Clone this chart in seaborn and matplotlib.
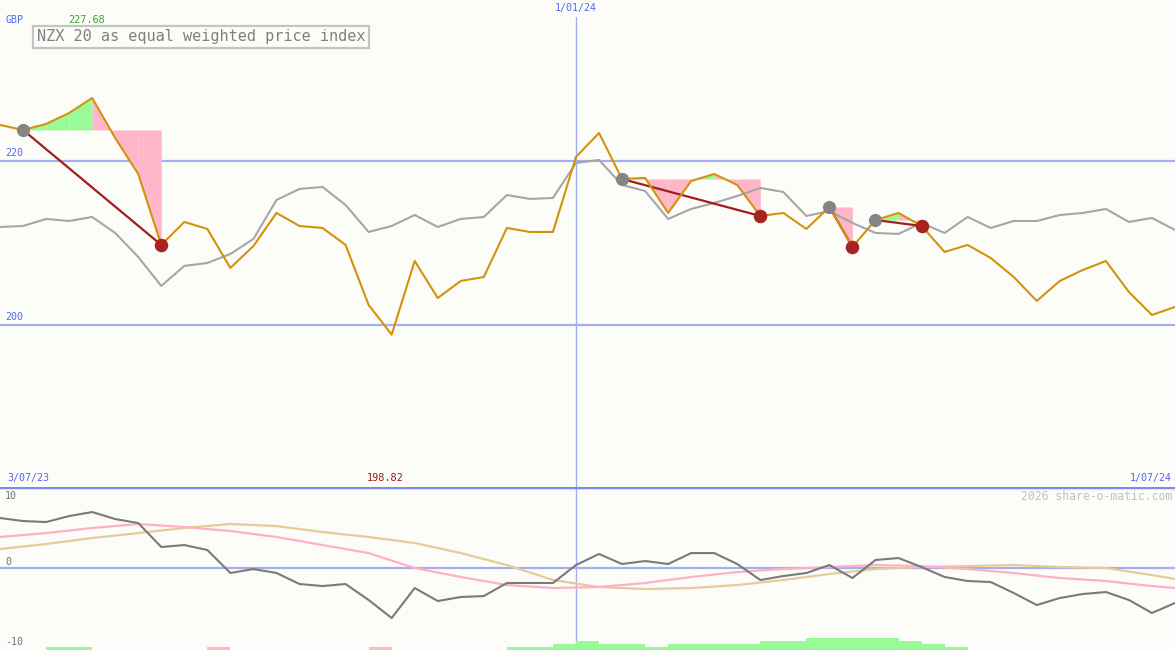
import matplotlib
matplotlib.use("Agg")
import matplotlib.pyplot as plt
import matplotlib.transforms as mtransforms
import seaborn as sns
import numpy as np

# weekly closes, 3/07/23 .. 1/07/24
weeks = np.arange(52)
index_close = [224.39, 223.78, 224.51, 225.85, 227.68, 222.80, 218.41, 209.76, 212.56, 211.71,
               206.95, 209.63, 213.66, 212.07, 211.83, 209.76, 202.44, 198.82, 207.80, 203.29,
               205.37, 205.85, 211.83, 211.34, 211.34, 220.49, 223.41, 217.80, 217.93, 213.66,
               217.56, 218.41, 217.07, 213.29, 213.66, 211.71, 214.39, 209.51, 212.80, 213.66,
               212.07, 208.90, 209.76, 208.17, 205.85, 202.93, 205.37, 206.71, 207.80, 204.02,
               201.22, 202.20]
compare_close = [211.95, 212.07, 212.93, 212.68, 213.17, 211.22, 208.29, 204.76, 207.20, 207.56,
                 208.66, 210.49, 215.24, 216.59, 216.83, 214.63, 211.34, 212.07, 213.41, 211.95,
                 212.93, 213.17, 215.85, 215.37, 215.49, 219.76, 220.12, 217.07, 216.34, 212.93,
                 214.15, 214.88, 215.73, 216.71, 216.22, 213.29, 213.90, 212.44, 211.22, 211.10,
                 212.44, 211.22, 213.17, 211.83, 212.68, 212.68, 213.41, 213.66, 214.15, 212.56,
                 213.05, 211.59]

# swing highs -> swing lows
peaks = [1, 27, 36, 38]
troughs = [7, 33, 37, 40]

# lower panel
momentum = [6.85, 6.44, 6.30, 7.12, 7.67, 6.71, 6.16, 2.88, 3.15, 2.47,
            -0.68, -0.14, -0.68, -2.19, -2.47, -2.19, -4.38, -6.85, -2.74, -4.52,
            -3.97, -3.84, -2.05, -2.05, -2.05, 0.41, 1.92, 0.55, 0.96, 0.55,
            2.05, 2.05, 0.55, -1.64, -1.10, -0.68, 0.41, -1.37, 1.10, 1.37,
            0.14, -1.23, -1.78, -1.92, -3.42, -5.07, -4.11, -3.56, -3.29, -4.38,
            -6.16, -4.79]
smooth_weeks = [0, 2, 4, 6, 8, 10, 12, 14, 16, 18, 20, 22, 24, 26, 28, 30, 32, 34, 36, 38,
                40, 42, 44, 46, 48, 50, 51]
fast_avg = [4.25, 4.79, 5.48, 6.03, 5.62, 5.07, 4.25, 3.15, 2.05, 0.00, -1.23, -2.33, -2.74,
            -2.60, -2.05, -1.23, -0.55, -0.14, 0.14, 0.41, 0.27, -0.14, -0.68, -1.37, -1.78,
            -2.47, -2.74]
slow_avg = [2.60, 3.29, 4.11, 4.79, 5.48, 6.03, 5.75, 4.93, 4.25, 3.42, 2.05, 0.41, -1.64,
            -2.60, -2.88, -2.74, -2.33, -1.64, -0.82, -0.14, 0.14, 0.27, 0.41, 0.14, 0.00,
            -0.96, -1.51]
# signal strip: + green, - pink
signal = [0, 0, 1, 1, 0, 0, 0, 0, 0, -1, 0, 0, 0, 0, 0, 0, -1, 0, 0, 0,
          0, 0, 1, 1, 2, 3, 2, 2, 1, 2, 2, 2, 2, 3, 3, 4, 4, 4, 4, 3,
          2, 1, 0, 0, 0, 0, 0, 0, 0, 0, 0]

date_labels = ["3/07/23", "1/01/24", "1/07/24"]
date_pos = [0, 25, 51]

bg = "#fcfdf9"
blue = "#5566ee"
grid_blue = "#a4aef2"
orange = "#d4920c"
green_fill = "#98fb98"
pink_fill = "#ffb6c8"
dark_red = "#a21d1d"
mono = "DejaVu Sans Mono"

sns.set_style("white")
plt.rcParams["font.family"] = [mono]

W, H = 1175, 650
fig = plt.figure(figsize=(W / 100, H / 100), dpi=100, facecolor=bg)
ax = fig.add_axes([0, 163 / H, 1, 487 / H], facecolor=bg)
ax2 = fig.add_axes([0, 0, 1, 163 / H], facecolor=bg)
for a in (ax, ax2):
    a.set_xlim(0, 51)
    a.set_xticks([])
    a.set_yticks([])
    a.set_xlabel("")
    a.set_ylabel("")
    for s in a.spines.values():
        s.set_visible(False)

ax.set_ylim(180.24, 239.63)
ax2.set_ylim(-11.23, 11.10)

# grid
for lvl in (220, 200):
    ax.axhline(lvl, color=grid_blue, lw=1.6, zorder=1)
    ax.text(0.22, lvl + 0.35, str(lvl), color=blue, fontsize=7.2, va="bottom", ha="left")
ax.axvline(date_pos[1], ymin=0, ymax=1 - 17 / 487, color=grid_blue, lw=1, zorder=1)
ax2.axvline(date_pos[1], color=grid_blue, lw=1, zorder=1)
ax2.axhline(0, color=grid_blue, lw=1.6, zorder=1)
ax2.axhline(11.10, color="#7d8aef", lw=2.5, zorder=5)

# swing fills
close = np.array(index_close)
for p, t in zip(peaks, troughs):
    lvl = close[p]
    for i in range(p, t):
        xs = weeks[i:i + 2]
        ys = close[i:i + 2]
        if ys[1] > ys[0]:
            ax.fill_between(xs, ys, lvl, where=ys >= lvl, interpolate=True, color=green_fill, lw=0, zorder=2)
            ax.fill_between(xs, ys, lvl, where=ys <= lvl, interpolate=True, color=pink_fill, lw=0, zorder=2)
        else:
            ax.fill_between(xs, ys, lvl, color=pink_fill, lw=0, zorder=2)

sns.lineplot(x=weeks, y=compare_close, ax=ax, color="#a6a6a6", linewidth=1.5, zorder=3)
for p, t in zip(peaks, troughs):
    sns.lineplot(x=[weeks[p], weeks[t]], y=[close[p], close[t]], ax=ax, color=dark_red,
                 linewidth=1.6, zorder=4)
sns.lineplot(x=weeks, y=index_close, ax=ax, color=orange, linewidth=1.5, zorder=5)
sns.scatterplot(x=weeks[peaks], y=close[peaks], ax=ax, color="#858585", s=90, linewidth=0, zorder=6)
sns.scatterplot(x=weeks[troughs], y=close[troughs], ax=ax, color="#a82222", s=95, linewidth=0, zorder=6)

# max / min labels
imax, imin = int(np.argmax(close)), int(np.argmin(close))
off = mtransforms.offset_copy(ax.transData, fig=fig, x=-6, y=0, units="dots")
tmax = mtransforms.blended_transform_factory(off, fig.transFigure)
fig.text(weeks[imax], 1 - 20 / H, f"{close[imax]:.2f}", transform=tmax, color="#33aa22",
         fontsize=7.4, ha="center", va="center")
fig.text(weeks[imin], 1 - 478 / H, f"{close[imin]:.2f}", transform=tmax, color="#a01818",
         fontsize=7.4, ha="center", va="center")

# text
fig.text(5 / W, 1 - 20 / H, "GBP", color=blue, fontsize=7.2, va="center", ha="left")
fig.text(37 / W, 1 - 37 / H, "NZX 20 as equal weighted price index", color="#808080",
         fontsize=11, va="center", ha="left",
         bbox=dict(boxstyle="square,pad=0.25", fc=bg, ec="#c4c4c4", lw=1.6))
fig.text(7 / W, 1 - 478 / H, date_labels[0], color=blue, fontsize=7.2, va="center", ha="left")
fig.text(1172 / W, 1 - 478 / H, date_labels[2], color=blue, fontsize=7.2, va="center", ha="right")
xt = mtransforms.blended_transform_factory(ax.transData, fig.transFigure)
fig.text(date_pos[1], 1 - 8 / H, date_labels[1], transform=xt, color=blue, fontsize=7.2,
         va="center", ha="center")
fig.text(1172 / W, 1 - 496 / H, "2026 share-o-matic.com", color="#c2c2c2", fontsize=8.3,
         va="center", ha="right")
for val, ypx in ((10, 496), (0, 562), (-10, 642)):
    fig.text(5 / W, 1 - ypx / H, str(val), color="#707070", fontsize=7.2, va="center", ha="left")

# lower panel lines
sns.lineplot(x=smooth_weeks, y=slow_avg, ax=ax2, color="#e6cc98", linewidth=1.6, zorder=3)
sns.lineplot(x=smooth_weeks, y=fast_avg, ax=ax2, color="#ffb0c4", linewidth=1.6, zorder=3)
sns.lineplot(x=weeks, y=momentum, ax=ax2, color="#7a7a7a", linewidth=1.5, zorder=4)

# signal strip
ax3 = ax2.twinx()
ax3.set_ylim(0, 163 / 3)
ax3.set_yticks([])
for s in ax3.spines.values():
    s.set_visible(False)
sig = np.array(signal)
cols = [green_fill if v > 0 else pink_fill for v in sig]
ax3.bar(weeks[:len(sig)], np.abs(sig), width=1, align="edge", color=cols, linewidth=0)

fig.savefig("out.png", dpi=100, facecolor=bg)
